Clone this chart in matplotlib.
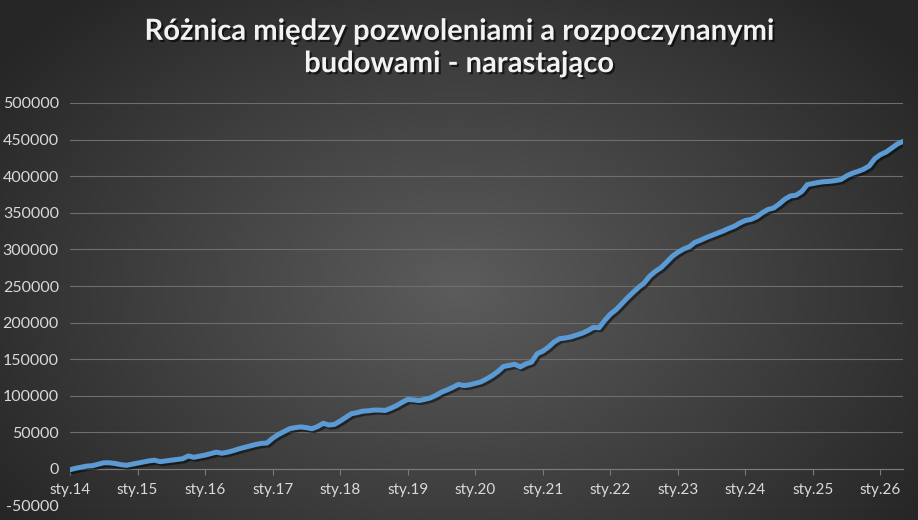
import numpy as np
import matplotlib
matplotlib.use('Agg')
import matplotlib.pyplot as plt
import matplotlib.patheffects as pe

# monthly cumulative difference, Jan 2014 onwards
values = [
    -1000, 1000, 2500, 4000, 4500, 6500, 8500, 8500, 7500, 6000, 5000, 6500,
    8000, 9500, 11000, 12000, 10000, 11000, 12000, 13000, 14000, 17800, 16000, 17500,
    19000, 21000, 23000, 21500, 23000, 25000, 27500, 29500, 31500, 33500, 35000, 35500,
    42000, 47000, 51000, 55000, 56500, 57500, 56500, 55000, 58000, 62500, 60000, 61000,
    65500, 70500, 75500, 77000, 79000, 79500, 80500, 80500, 80000, 83000, 86500, 91000,
    95000, 94500, 93500, 95000, 97000, 100500, 105000, 108000, 111500, 115500, 114000, 115000,
    117000, 119000, 123000, 127500, 133000, 140000, 141500, 143000, 139500, 143500, 146000, 157500,
    161000, 166500, 173500, 178000, 179000, 180500, 183000, 185500, 189000, 193500, 193000, 203000,
    211500, 217500, 225500, 233500, 241000, 248000, 254000, 263500, 270000, 275000, 282500, 290500,
    296000, 300500, 303500, 309500, 312500, 316000, 319000, 322000, 325000, 328500, 331500, 336000,
    339500, 341000, 344500, 350000, 354500, 356500, 362000, 368500, 373000, 374000, 379000, 388500,
    390000, 391500, 392500, 393000, 394000, 395500, 400500, 404000, 406500, 409500, 414000, 424000,
    429500, 433000, 438500, 444000, 447500,
]
year_labels = ['sty.14', 'sty.15', 'sty.16', 'sty.17', 'sty.18', 'sty.19', 'sty.20',
               'sty.21', 'sty.22', 'sty.23', 'sty.24', 'sty.25', 'sty.26']
y_ticks = [-50000, 0, 50000, 100000, 150000, 200000, 250000,
           300000, 350000, 400000, 450000, 500000]

W, H = 918, 520
fig = plt.figure(figsize=(W / 100, H / 100), dpi=100)

# radial dark gradient background
bg = fig.add_axes([0, 0, 1, 1], zorder=-10)
yy, xx = np.mgrid[0:H, 0:W]
r = np.sqrt(((xx - W * 0.5) / (W * 0.62)) ** 2 + ((yy - H * 0.55) / (H * 0.75)) ** 2)
r = np.clip(r, 0, 1)
c0 = np.array([0x5c, 0x5c, 0x5c]) / 255
c1 = np.array([0x26, 0x26, 0x26]) / 255
img = c0[None, None, :] * (1 - r[..., None]) + c1[None, None, :] * r[..., None]
bg.imshow(img, aspect='auto', extent=[0, 1, 0, 1], origin='upper')
bg.axis('off')

left, right = 70 / W, 903 / W
top_px, bot_px = 103, 505.6
ax = fig.add_axes([left, 1 - bot_px / H, right - left, (bot_px - top_px) / H])
ax.patch.set_alpha(0)

x = np.arange(len(values))
ax.plot(x, values, color='#5b9bd5', lw=3.6, solid_capstyle='round', solid_joinstyle='round',
        path_effects=[pe.SimpleLineShadow(offset=(1.5, -1.5), shadow_color='black', alpha=0.5),
                      pe.Normal()], zorder=3)

ax.set_xlim(0, len(values) - 1)
ax.set_ylim(-50000, 500000)
ax.set_yticks(y_ticks)
ax.set_yticklabels([str(v) for v in y_ticks])
ax.grid(axis='y', color='#6e6e6e', lw=0.8)
ax.set_axisbelow(True)

ax.set_xticks(np.arange(0, len(values), 12))
ax.set_xticklabels(year_labels)
for s in ['top', 'right', 'left']:
    ax.spines[s].set_visible(False)
ax.spines['bottom'].set_position(('data', 0))
ax.spines['bottom'].set_color('#7a7a7a')
ax.spines['bottom'].set_linewidth(0.8)
ax.tick_params(axis='x', colors='#7a7a7a', length=4, width=0.8, pad=6, labelcolor='#d9d9d9',
               labelsize=11)
ax.tick_params(axis='y', length=0, pad=8, labelcolor='#d9d9d9', labelsize=11.5)
for lab in ax.get_xticklabels() + ax.get_yticklabels():
    lab.set_fontfamily('Lato')

fig.text(0.5, 1 - 48 / H, 'Różnica między pozwoleniami a rozpoczynanymi\nbudowami - narastająco',
         ha='center', va='center', color='#f2f2f2', fontsize=21, fontweight='bold',
         family='Lato', linespacing=1.3,
         path_effects=[pe.withSimplePatchShadow(offset=(1.5, -1.5), shadow_rgbFace='black', alpha=0.6)])

fig.savefig('out.png', dpi=100)
